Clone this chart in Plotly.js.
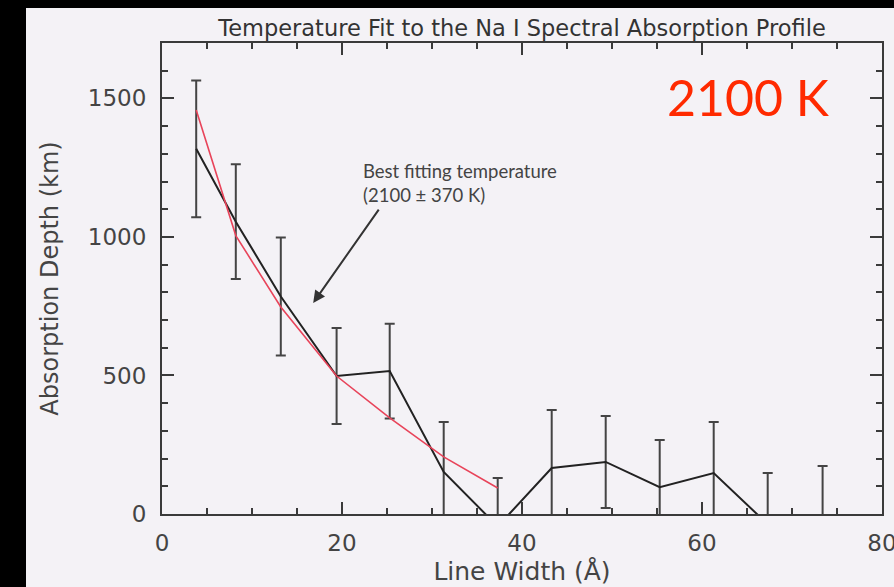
<!DOCTYPE html>
<html>
<head>
<meta charset="utf-8">
<script src="https://cdn.plot.ly/plotly-3.0.1.min.js"></script>
<style>
  html, body { margin: 0; padding: 0; background: #000; width: 894px; height: 587px; overflow: hidden; }
  #chart { position: absolute; left: 26px; top: 8px; width: 868px; height: 579px; }
</style>
</head>
<body>
<div id="chart"></div>
<script>
// Measured Na I absorption depth versus line width, with 1-sigma errors
const lineWidth = [3.8, 8.2, 13.2, 19.4, 25.3, 31.3, 37.3, 43.3, 49.3, 55.3, 61.3, 67.3, 73.4];
const depth     = [1318, 1055, 785, 498, 516, 152, -45, 166, 188, 97, 148, -37, -10];
const depthErr  = [247, 207, 213, 173, 171, 180, 175, 209, 166, 170, 184, 185, 183];

// Model depth for the best fitting temperature (2100 K)
const fitWidth = [3.8, 8.2, 13.2, 19.4, 25.3, 31.3, 37.3];
const fitDepth = [1458, 1005, 747, 498, 347, 206, 94];

const axisColor = '#3a3a3a';
const tickFont = { family: 'DejaVu Sans', size: 23, color: '#444' };

const traces = [
  {
    x: lineWidth, y: depth, type: 'scatter', mode: 'lines',
    line: { color: '#222', width: 2 },
    error_y: { type: 'data', array: depthErr, visible: true, color: '#444', thickness: 2, width: 5 },
    showlegend: false, hoverinfo: 'x+y'
  },
  {
    x: fitWidth, y: fitDepth, type: 'scatter', mode: 'lines',
    line: { color: '#e8445a', width: 1.6 },
    showlegend: false, hoverinfo: 'x+y'
  }
];

const layout = {
  width: 868, height: 579,
  margin: { l: 136, r: 12, t: 35, b: 73 },
  paper_bgcolor: '#f4f2f6',
  plot_bgcolor: '#f4f2f6',
  title: {
    text: 'Temperature Fit to the Na I Spectral Absorption Profile',
    font: { family: 'DejaVu Sans', size: 22.5, color: '#333' },
    x: 0.5, xref: 'paper', xanchor: 'center',
    y: 0.9655, yref: 'container', yanchor: 'middle'
  },
  xaxis: {
    range: [0, 80], dtick: 20, tick0: 0,
    ticks: 'inside', ticklen: 12, tickwidth: 2, tickcolor: axisColor,
    minor: { dtick: 5, ticks: 'inside', ticklen: 6, tickwidth: 2, tickcolor: axisColor, showgrid: false },
    showline: true, linecolor: axisColor, linewidth: 2, mirror: 'ticks',
    showgrid: false, zeroline: false,
    tickfont: tickFont, ticklabelstandoff: 7, ticklabeloverflow: 'allow',
    title: { text: 'Line Width (Å)', font: { family: 'DejaVu Sans', size: 25, color: '#444' }, standoff: 8 }
  },
  yaxis: {
    range: [0, 1700], dtick: 500, tick0: 0,
    ticks: 'inside', ticklen: 12, tickwidth: 2, tickcolor: axisColor,
    minor: { dtick: 100, ticks: 'inside', ticklen: 6, tickwidth: 2, tickcolor: axisColor, showgrid: false },
    showline: true, linecolor: axisColor, linewidth: 2, mirror: 'ticks',
    showgrid: false, zeroline: false,
    tickfont: tickFont, ticklabelstandoff: 9,
    title: { text: 'Absorption Depth (km)', font: { family: 'DejaVu Sans', size: 24, color: '#444' }, standoff: 22 }
  },
  annotations: [
    {
      x: 16.8, y: 762, ax: 24.2, ay: 1104, xref: 'x', yref: 'y', axref: 'x', ayref: 'y',
      text: '', showarrow: true, arrowhead: 2, arrowsize: 1.2, arrowwidth: 2, arrowcolor: '#333'
    },
    {
      x: 22.1, y: 1195, xref: 'x', yref: 'y', xanchor: 'left', yanchor: 'middle', align: 'left',
      text: 'Best fitting temperature<br>(2100 ± 370 K)', showarrow: false,
      font: { family: 'Lato', size: 18.5, color: '#444' }
    },
    {
      x: 0.815, y: 0.885, xref: 'paper', yref: 'paper', xanchor: 'center', yanchor: 'middle',
      text: '2100 K', showarrow: false,
      font: { family: 'Lato', size: 50, color: '#ff2a00' }
    }
  ]
};

Plotly.newPlot('chart', traces, layout, { displayModeBar: false, staticPlot: true });
</script>
</body>
</html>
